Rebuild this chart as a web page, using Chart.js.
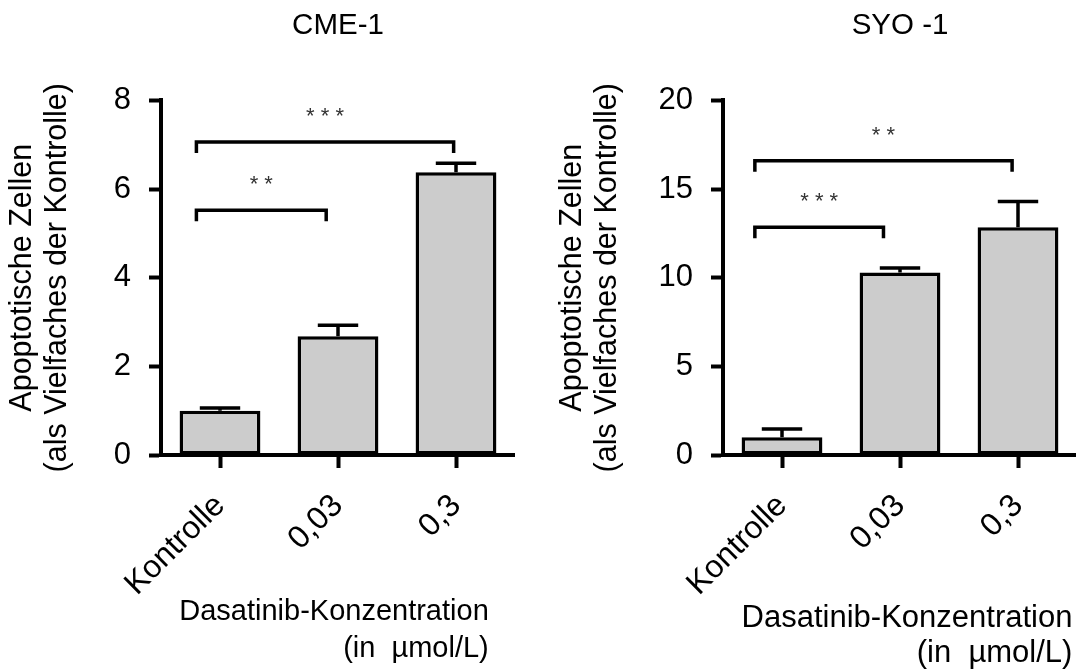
<!DOCTYPE html>
<html>
<head>
<meta charset="utf-8">
<script src="https://cdn.jsdelivr.net/npm/chart.js@4.4.0/dist/chart.umd.min.js"></script>
<style>
html, body { margin: 0; padding: 0; background: #fff; overflow: hidden; width: 1076px; height: 669px; }
#cme { position: absolute; left: 0; top: 0; }
#syo { position: absolute; left: 550px; top: 0; }
</style>
</head>
<body>
<canvas id="cme" width="515" height="669"></canvas>
<canvas id="syo" width="527" height="669"></canvas>
<script>
// values
const categories = ["Kontrolle", "0,03", "0,3"];

const cmeValues = [1.0, 2.68, 6.38];
const cmeErrors = [0.06, 0.25, 0.2];
const cmeTicks = [0, 2, 4, 6, 8];
const cmeBracketFrom = [-0.2, -0.2];
const cmeBracketTo = [0.9, 1.98];
const cmeBracketY = [5.52, 7.06];
const cmeBracketLabels = ["* *", "* * *"];

const syoValues = [1.0, 10.3, 12.85];
const syoErrors = [0.46, 0.25, 1.45];
const syoTicks = [0, 5, 10, 15, 20];
const syoBracketFrom = [-0.23, -0.23];
const syoBracketTo = [0.86, 1.95];
const syoBracketY = [12.85, 16.6];
const syoBracketLabels = ["* * *", "* *"];

const yTitle = ["Apoptotische Zellen", "(als Vielfaches der Kontrolle)"];
const xTitle = ["Dasatinib-Konzentration", "(in  µmol/L)"];

const family = "'Liberation Sans', Arial, sans-serif";

// error bars + significance brackets
const marksPlugin = {
    id: 'marks',
    afterDatasetsDraw(chart, args, opts) {
        const ctx = chart.ctx;
        const x = chart.scales.x;
        const y = chart.scales.y;
        const meta = chart.getDatasetMeta(0);
        ctx.save();
        ctx.strokeStyle = '#000';
        ctx.lineWidth = 3.5;
        meta.data.forEach((bar, i) => {
            const top = y.getPixelForValue(opts.values[i] + opts.errors[i]);
            const half = bar.width / 4;
            ctx.beginPath();
            ctx.moveTo(bar.x, bar.y);
            ctx.lineTo(bar.x, top);
            ctx.moveTo(bar.x - half, top);
            ctx.lineTo(bar.x + half, top);
            ctx.stroke();
        });
        ctx.font = '22px ' + family;
        ctx.fillStyle = '#333';
        ctx.textAlign = 'center';
        ctx.textBaseline = 'alphabetic';
        opts.from.forEach((f, i) => {
            const x1 = x.getPixelForValue(f);
            const x2 = x.getPixelForValue(opts.to[i]);
            const by = y.getPixelForValue(opts.by[i]);
            ctx.beginPath();
            ctx.moveTo(x1, by + 11);
            ctx.lineTo(x1, by);
            ctx.lineTo(x2, by);
            ctx.lineTo(x2, by + 11);
            ctx.stroke();
            ctx.fillText(opts.labels[i], (x1 + x2) / 2, by - 19);
        });
        ctx.restore();
    }
};

const xTitlePlugin = {
    id: 'xTitle',
    afterDraw(chart, args, opts) {
        const ctx = chart.ctx;
        const a = chart.chartArea;
        ctx.save();
        ctx.font = opts.size + 'px ' + family;
        ctx.fillStyle = '#000';
        ctx.textBaseline = 'alphabetic';
        const cx = (a.left + a.right) / 2 + opts.dx;
        const w = ctx.measureText(xTitle[0]).width;
        ctx.textAlign = 'center';
        ctx.fillText(xTitle[0], cx, a.bottom + opts.dy1);
        ctx.textAlign = 'right';
        ctx.fillText(xTitle[1], cx + w / 2, a.bottom + opts.dy2);
        ctx.restore();
    }
};

function CreateChart(id, title, values, errors, ticks, from, to, by, labels, yWidth, xt) {
    const ctx = document.getElementById(id);
    return new Chart(ctx, {
        type: 'bar',
        data: {
            labels: categories,
            datasets: [{
                data: values,
                backgroundColor: '#cccccc',
                borderColor: '#000',
                borderWidth: 3.5,
                borderSkipped: false,
                barPercentage: 0.685,
                categoryPercentage: 1
            }]
        },
        options: {
            responsive: false,
            animation: false,
            layout: { padding: 0 },
            plugins: {
                legend: { display: false },
                tooltip: { enabled: false },
                title: {
                    display: true,
                    text: title,
                    fullSize: false,
                    color: '#000',
                    font: { size: 29.5, weight: 'normal', family: family, lineHeight: 1.2 },
                    padding: { top: 8, bottom: 57 }
                },
                marks: { values: values, errors: errors, from: from, to: to, by: by, labels: labels },
                xTitle: xt
            },
            scales: {
                x: {
                    offset: true,
                    afterFit: s => { s.height = 214; },
                    border: { display: true, color: '#000', width: 4 },
                    grid: { offset: false, drawOnChartArea: false, tickLength: 13, tickWidth: 4, tickColor: '#000' },
                    ticks: {
                        color: '#000',
                        font: { size: 32, family: family },
                        minRotation: 45,
                        maxRotation: 45,
                        padding: 19
                    }
                },
                y: {
                    min: ticks[0],
                    max: ticks[ticks.length - 1],
                    afterBuildTicks: s => { s.ticks = ticks.map(v => ({ value: v })); },
                    afterFit: s => { s.width = yWidth; },
                    border: { display: true, color: '#000', width: 4 },
                    grid: { drawOnChartArea: false, tickLength: 12, tickWidth: 4, tickColor: '#000' },
                    ticks: { color: '#000', font: { size: 31, family: family }, padding: 18 },
                    title: {
                        display: true,
                        text: yTitle,
                        color: '#000',
                        font: { size: 30.5, family: family, lineHeight: 1.12 },
                        padding: { top: 6, bottom: 0 }
                    }
                }
            }
        },
        plugins: [marksPlugin, xTitlePlugin]
    });
}

CreateChart('cme', 'CME-1', cmeValues, cmeErrors, cmeTicks,
    cmeBracketFrom, cmeBracketTo, cmeBracketY, cmeBracketLabels, 161,
    { size: 29, dx: -4, dy1: 165, dy2: 202 });

CreateChart('syo', 'SYO -1', syoValues, syoErrors, syoTicks,
    syoBracketFrom, syoBracketTo, syoBracketY, syoBracketLabels, 173,
    { size: 31, dx: 7, dy1: 172, dy2: 207 });
</script>
</body>
</html>
